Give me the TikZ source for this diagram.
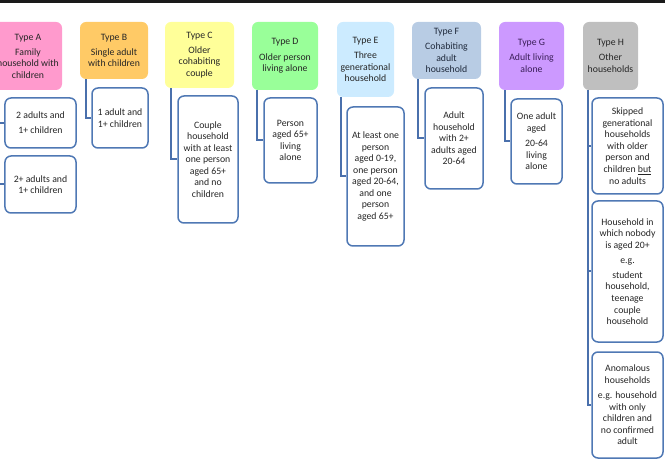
\documentclass[tikz,border=0pt]{standalone}
\usepackage{fontspec}
\setmainfont{Carlito}
\usepackage{tikz}
\definecolor{HeadA}{HTML}{FF9ACD}
\definecolor{HeadB}{HTML}{FFCA66}
\definecolor{HeadC}{HTML}{FFFF99}
\definecolor{HeadD}{HTML}{99FF99}
\definecolor{HeadE}{HTML}{CCEBFF}
\definecolor{HeadF}{HTML}{B8CCE4}
\definecolor{HeadG}{HTML}{CC99FF}
\definecolor{HeadH}{HTML}{BFBFBF}
\definecolor{KidRule}{HTML}{4F78B4}
\definecolor{LinkBlue}{HTML}{4A70AC}
\definecolor{TextDark}{HTML}{262626}
\definecolor{TextF}{HTML}{1F2A3C}
\definecolor{TextG}{HTML}{3A1E58}
\definecolor{TopBar}{HTML}{1A1A1A}

\begin{document}
\begin{tikzpicture}[
        x=1bp,y=-1bp,
        head/.style={fill=#1,rounded corners=6bp,inner sep=1bp,align=center,text=TextDark,font=\fontsize{9.8}{11.6}\selectfont},
        kid/.style={draw=KidRule,fill=white,line width=1.5bp,rounded corners=6bp,inner sep=1bp,align=center,text=TextDark,font=\fontsize{9.8}{11.6}\selectfont},
        link/.style={draw=LinkBlue,line width=2bp}
      ]
        \useasboundingbox (0,0) rectangle (665,464);
        \fill[TopBar] (0,0) rectangle (665,3);
        % household types
        \node[head=HeadA,minimum width=68bp,minimum height=68bp] (hA) at (28,56) {Type A\\[3.5bp]Family\\household with\\children};
        \node[head=HeadB,minimum width=68bp,minimum height=57bp] (hB) at (114,50.5) {Type B\\[3.5bp]Single adult\\with children};
        \node[head=HeadC,minimum width=69bp,minimum height=66bp] (hC) at (199.5,55) {Type C\\[3.5bp]Older\\cohabiting\\couple};
        \node[head=HeadD,minimum width=66bp,minimum height=68bp] (hD) at (285,56) {Type D\\[3.5bp]Older person\\living alone};
        \node[head=HeadE,minimum width=57bp,minimum height=75bp] (hE) at (365.5,59.5) {Type E\\[3.5bp]Three\\generational\\household};
        \node[head=HeadF,minimum width=69bp,minimum height=57bp,text=TextF] (hF) at (446.5,50.5) {Type F\\[3.5bp]Cohabiting\\adult\\household};
        \node[head=HeadG,minimum width=65bp,minimum height=68bp,text=TextG] (hG) at (531.5,56) {Type G\\[3.5bp]Adult living\\alone};
        \node[head=HeadH,minimum width=55bp,minimum height=68bp] (hH) at (610.5,56) {Type H\\[3.5bp]Other\\households};
        % definitions
        \node[kid,minimum width=71bp,minimum height=50bp] (kA1) at (40.5,123) {2 adults and\\[3.5bp]1+ children};
        \node[kid,minimum width=71bp,minimum height=57bp] (kA2) at (40.5,184.5) {2+ adults and\\1+ children};
        \node[kid,minimum width=56bp,minimum height=60bp] (kB) at (120,118) {1 adult and\\1+ children};
        \node[kid,minimum width=60bp,minimum height=127bp] (kC) at (208,159.5) {Couple\\household\\with at least\\one person\\aged 65+\\and no\\children};
        \node[kid,minimum width=53bp,minimum height=85bp] (kD) at (290.5,140.5) {Person\\aged 65+\\living\\alone};
        \node[kid,minimum width=57bp,minimum height=139bp] (kE) at (375.5,176.5) {At least one\\person\\aged 0-19,\\one person\\aged 20-64,\\and one\\person\\aged 65+};
        \node[kid,minimum width=58bp,minimum height=101bp] (kF) at (454,138.5) {Adult\\household\\with 2+\\adults aged\\20-64};
        \node[kid,minimum width=51bp,minimum height=85bp] (kG) at (536.5,141.5) {One adult\\aged\\[3.5bp]20-64\\living\\alone};
        \node[kid,minimum width=71bp,minimum height=96bp] (kH1) at (627.5,146) {Skipped\\generational\\households\\with older\\person and\\children \underline{but}\\no adults};
        \node[kid,minimum width=71bp,minimum height=141bp] (kH2) at (627.5,271.5) {Household in\\which nobody\\is aged 20+\\[3.5bp]e.g.\\[3.5bp]student\\household,\\teenage\\couple\\household};
        \node[kid,minimum width=71bp,minimum height=106bp] (kH3) at (627.5,405) {Anomalous\\households\\[3.5bp]e.g. household\\with only\\children and\\no confirmed\\adult};
        % connectors
        \draw[link] ([xshift=4bp]hA.south west) |- (kA1.west);
        \draw[link] ([xshift=4bp]hA.south west) |- (kA2.west);
        \draw[link] ([xshift=6bp]hB.south west) |- (kB.west);
        \draw[link] ([xshift=6bp]hC.south west) |- (kC.west);
        \draw[link] ([xshift=5bp]hD.south west) |- (kD.west);
        \draw[link] ([xshift=4bp]hE.south west) |- (kE.west);
        \draw[link] ([xshift=6bp]hF.south west) |- (kF.west);
        \draw[link] ([xshift=6bp]hG.south west) |- (kG.west);
        \draw[link] ([xshift=5bp]hH.south west) |- (kH1.west);
        \draw[link] ([xshift=5bp]hH.south west) |- (kH2.west);
        \draw[link] ([xshift=5bp]hH.south west) |- (kH3.west);
      \end{tikzpicture}
\end{document}
